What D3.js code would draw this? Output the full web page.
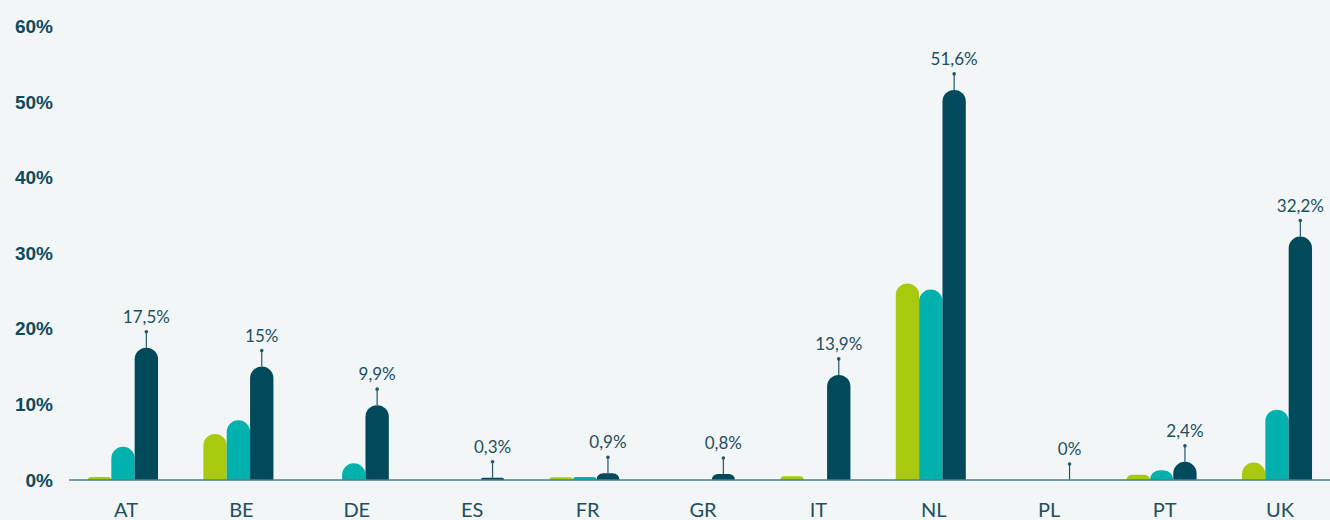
<!DOCTYPE html>
<html>
<head>
    <meta charset="utf-8">
    <title>Share by country</title>
    <script src="https://cdnjs.cloudflare.com/ajax/libs/d3/7.8.5/d3.min.js"></script>
</head>
<style media="screen">
    body { margin: 0; background: #f2f6f7; }
    svg { display: block; font-family: Lato, "Open Sans", sans-serif; }
    .y-axis text { font-size: 19px; font-weight: 800; fill: #0d4a5c; }
    .cat text { font-size: 20px; font-weight: 400; fill: #1d4f5f; }
    .val { font-size: 17px; font-weight: 400; fill: #1d4f5f; }
</style>
<body>
    <script>
        var w = 1330, h = 520;

        var countries = ["AT", "BE", "DE", "ES", "FR", "GR", "IT", "NL", "PL", "PT", "UK"];
        var series = ["s1", "s2", "s3"];
        var colors = ["#a9c90f", "#00b1ae", "#004a5c"];
        var s1 = [0.4, 6.1, 0, 0, 0.35, 0, 0.5, 26.0, 0, 0.7, 2.3];
        var s2 = [4.4, 7.9, 2.2, 0, 0.4, 0, 0, 25.2, 0, 1.3, 9.3];
        var s3 = [17.5, 15, 9.9, 0.3, 0.9, 0.8, 13.9, 51.6, 0, 2.4, 32.2];
        var yTicks = [0, 10, 20, 30, 40, 50, 60];

        var data = countries.map(function(c, i) {
            return { country: c, values: [s1[i], s2[i], s3[i]] };
        });

        var svg = d3.select("body").append("svg")
            .attr("width", w)
            .attr("height", h);

        var x0 = d3.scaleBand()
            .domain(countries)
            .range([65.3, 1334.7])
            .paddingInner(0.393)
            .paddingOuter(0.1965);

        var x1 = d3.scaleBand()
            .domain(series)
            .range([0, x0.bandwidth()]);

        var y = d3.scaleLinear()
            .domain([0, 60])
            .range([480, 26.4]);

        // y axis labels only
        svg.append("g")
            .attr("class", "y-axis")
            .attr("transform", "translate(53,0)")
            .call(d3.axisLeft(y).tickValues(yTicks).tickSize(0).tickPadding(0)
                .tickFormat(function(d) { return d + "%"; }))
            .call(function(g) { g.select(".domain").remove(); });

        function barPath(x, top, bw, base) {
            var hh = base - top;
            var r = Math.min(bw / 2, hh);
            return "M" + x + "," + base +
                "V" + (top + r) +
                "A" + r + "," + r + " 0 0 1 " + (x + r) + "," + top +
                "H" + (x + bw - r) +
                "A" + r + "," + r + " 0 0 1 " + (x + bw) + "," + (top + r) +
                "V" + base + "Z";
        }

        var groups = svg.selectAll("g.grp")
            .data(data)
            .enter().append("g")
            .attr("class", "grp")
            .attr("transform", function(d) { return "translate(" + x0(d.country) + ",0)"; });

        groups.selectAll("path")
            .data(function(d) { return d.values.map(function(v, i) { return { s: series[i], v: v, i: i }; }); })
            .enter().append("path")
            .filter(function(d) { return d.v > 0; })
            .attr("fill", function(d) { return colors[d.i]; })
            .attr("d", function(d) { return barPath(x1(d.s), y(d.v), x1.bandwidth(), y(0)); });

        // baseline
        svg.append("line")
            .attr("x1", 69).attr("x2", 1330)
            .attr("y1", y(0)).attr("y2", y(0))
            .attr("stroke", "#4f7f8c")
            .attr("stroke-width", 1.5);

        // pins + value labels on last series
        var pins = groups.append("g")
            .attr("transform", function(d) {
                return "translate(" + (x1("s3") + x1.bandwidth() / 2) + "," + y(d.values[2]) + ")";
            });
        pins.append("line")
            .attr("y1", 0).attr("y2", -15)
            .attr("stroke", "#235766").attr("stroke-width", 1.2);
        pins.append("circle")
            .attr("cy", -16).attr("r", 1.8)
            .attr("fill", "#235766");
        pins.append("text")
            .attr("class", "val")
            .attr("y", -25)
            .attr("text-anchor", "middle")
            .text(function(d) { return String(d.values[2]).replace(".", ",") + "%"; });

        // category labels
        svg.append("g")
            .attr("class", "cat")
            .selectAll("text")
            .data(countries)
            .enter().append("text")
            .attr("x", function(d) { return x0(d) + x0.bandwidth() / 2 + 3; })
            .attr("y", 516.5)
            .attr("text-anchor", "middle")
            .text(function(d) { return d; });
    </script>
</body>
</html>
